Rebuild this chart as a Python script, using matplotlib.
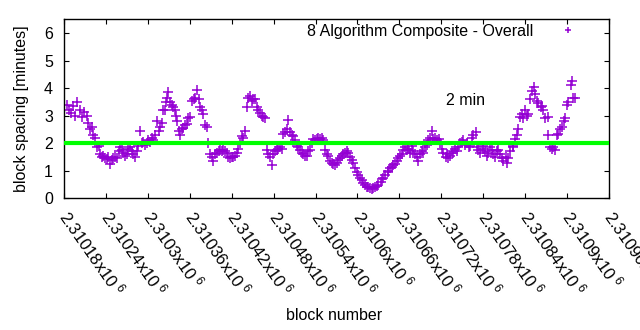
import matplotlib
matplotlib.use("Agg")
import matplotlib.pyplot as plt
import numpy as np

plt.rcParams['font.family'] = ['Liberation Sans', 'DejaVu Sans']
plt.rcParams['mathtext.fontset'] = 'custom'
plt.rcParams['mathtext.rm'] = 'Liberation Sans'
plt.rcParams['mathtext.default'] = 'regular'

purple = '#9400d3'
green = '#00ff00'

# block numbers are stored as offsets from the first x tick
block_base = 2310180
block_offset = [
    4, 7, 10, 13, 16, 19, 23, 26, 29, 33,
    34, 37, 40, 42, 44, 47, 50, 52, 54, 56,
    59, 62, 63, 66, 69, 70, 73, 76, 79, 80,
    83, 84, 87, 90, 92, 95, 97, 99, 102, 105,
    106, 109, 112, 113, 116, 119, 120, 123, 126, 127,
    130, 133, 136, 137, 140, 142, 145, 146, 147, 149,
    152, 155, 156, 159, 160, 162, 165, 166, 169, 170,
    173, 176, 178, 180, 183, 186, 188, 190, 193, 195,
    198, 199, 202, 205, 206, 209, 212, 213, 216, 219,
    222, 223, 226, 228, 231, 233, 235, 238, 241, 242,
    245, 248, 249, 252, 255, 256, 259, 262, 263, 266,
    269, 271, 274, 276, 278, 281, 284, 285, 288, 291,
    292, 295, 298, 299, 302, 305, 306, 309, 312, 314,
    316, 319, 321, 324, 326, 328, 331, 334, 335, 338,
    341, 342, 345, 348, 349, 352, 355, 357, 359, 362,
    364, 367, 369, 371, 374, 377, 378, 381, 384, 385,
    388, 391, 392, 395, 398, 400, 402, 405, 407, 410,
    412, 414, 417, 420, 421, 424, 427, 428, 431, 434,
    435, 438, 441, 442, 445, 448, 450, 453, 455, 457,
    460, 463, 464, 467, 470, 471, 474, 477, 478, 481,
    484, 485, 488, 491, 493, 495, 498, 500, 503, 505,
    507, 510, 513, 514, 517, 520, 521, 524, 527, 528,
    531, 534, 536, 538, 541, 543, 546, 548, 550, 553,
    556, 557, 560, 563, 564, 567, 570, 571, 574, 577,
    579, 581, 584, 586, 589, 591, 593, 596, 599, 600,
    603, 606, 607, 610, 613, 614, 617, 620, 621, 624,
    627, 629, 632, 634, 636, 639, 642, 643, 646, 649,
    650, 653, 656, 657, 660, 663, 664, 667, 670, 672,
    674, 677, 679, 682, 684, 686, 689, 692, 693, 696,
    699, 700, 703, 706, 707, 710, 713, 715, 717, 720,
    722, 725, 727, 729, 732,
]
spacing_min = [
    3.4, 3.2, 3.1, 3.35, 3.0, 3.5, 3.2, 2.95, 3.15, 3.0,
    2.75, 2.5, 2.6, 2.3, 2.2, 1.85, 1.9, 1.6, 1.5, 1.55,
    1.45, 1.43, 1.5, 1.25, 1.4, 1.45, 1.5, 1.45, 1.7, 1.85,
    1.75, 1.65, 1.55, 1.6, 1.8, 1.85, 1.7, 1.6, 1.5, 1.7,
    1.9, 2.45, 2.0, 2.05, 1.95, 2.0, 2.1, 2.05, 2.2, 2.1,
    2.3, 2.8, 2.45, 2.6, 2.75, 3.2, 3.2, 3.5, 3.65, 3.85,
    3.5, 3.4, 3.3, 3.2, 3.0, 2.8, 2.45, 2.3, 2.5, 2.55,
    2.65, 2.7, 2.9, 2.95, 3.55, 3.6, 3.65, 3.95, 3.6, 3.3,
    3.2, 3.05, 2.65, 2.6, 2.0, 1.6, 1.5, 1.35, 1.6, 1.65,
    1.7, 1.75, 1.7, 1.75, 1.7, 1.65, 1.5, 1.45, 1.5, 1.5,
    1.55, 1.65, 1.8, 2.0, 2.25, 2.2, 2.45, 3.3, 3.65, 3.7,
    3.55, 3.6, 3.6, 3.3, 3.2, 3.1, 3.0, 2.95, 2.9, 1.75,
    1.6, 1.5, 1.2, 1.6, 1.7, 1.75, 1.8, 1.85, 1.8, 2.35,
    2.4, 2.5, 2.85, 2.4, 2.3, 2.25, 2.1, 1.9, 1.85, 1.75,
    1.65, 1.6, 1.55, 1.55, 1.7, 1.75, 2.0, 2.15, 2.1, 2.15,
    2.2, 2.15, 2.2, 2.1, 1.75, 1.6, 1.55, 1.35, 1.3, 1.25,
    1.2, 1.3, 1.4, 1.45, 1.55, 1.6, 1.65, 1.7, 1.65, 1.5,
    1.4, 1.3, 1.1, 0.95, 0.85, 0.75, 0.65, 0.55, 0.48, 0.42,
    0.4, 0.37, 0.35, 0.36, 0.4, 0.45, 0.5, 0.6, 0.7, 0.75,
    0.85, 0.95, 1.0, 1.1, 1.15, 1.2, 1.25, 1.35, 1.45, 1.55,
    1.6, 1.75, 1.85, 1.75, 1.8, 1.65, 1.9, 1.7, 1.6, 1.5,
    1.35, 1.6, 1.7, 1.65, 1.85, 1.95, 2.1, 2.2, 2.45, 2.15,
    2.2, 2.1, 2.15, 2.0, 1.8, 1.65, 1.5, 1.6, 1.45, 1.55,
    1.7, 1.65, 1.8, 1.7, 1.85, 2.0, 2.05, 2.1, 1.95, 2.0,
    1.85, 1.9, 2.2, 2.3, 2.4, 1.85, 1.75, 1.65, 1.8, 1.9,
    1.7, 1.55, 1.65, 1.85, 1.75, 1.6, 1.5, 1.7, 1.75, 1.6,
    1.45, 1.35, 1.5, 1.3, 1.45, 1.7, 1.85, 1.9, 2.15, 2.3,
    2.5, 2.95, 3.05, 2.9, 3.2, 3.0, 3.05, 3.6, 3.9, 4.05,
    3.8, 3.55, 3.45, 3.3, 3.35, 3.2, 2.9, 2.95, 2.3, 1.85,
    1.8, 1.85, 1.75, 2.3, 2.35, 2.5, 2.6, 2.8, 2.9, 3.4,
    3.5, 4.1, 4.25, 3.65, 3.65,
]
target_min = 2
x_ticks = [block_base + 60 * k for k in range(14)]
y_ticks = [0, 1, 2, 3, 4, 5, 6]

blocks = block_base + np.array(block_offset)

fig = plt.figure(figsize=(6.4, 3.3), dpi=100)
ax = fig.add_axes([64 / 640, 1 - 198.3 / 330, 545 / 640, 179 / 330])

ax.plot(blocks, spacing_min, linestyle='none', marker='+', color=purple,
        markersize=7, markeredgewidth=1.1, label='8 Algorithm Composite - Overall')
ax.axhline(target_min, color=green, linewidth=3, zorder=3)
ax.text(block_base + 547, 3.54, '2 min', ha='left', va='center', fontsize=11.5)

ax.set_xlim(x_ticks[0], x_ticks[-1])
ax.set_ylim(0, 6.5)
ax.set_yticks(y_ticks)
ax.set_xticks(x_ticks)
ax.set_xticklabels([f'{v / 1e6:g}x10$^{{\\ 6}}$' for v in x_ticks],
                   rotation=-55, ha='left', va='center', rotation_mode='anchor',
                   fontsize=12)
ax.tick_params(direction='in', top=True, right=True, length=3.5, width=0.8,
               colors='black')
ax.tick_params(axis='x', pad=10)
ax.tick_params(axis='y', pad=8, labelsize=11.5)
for s in ax.spines.values():
    s.set_linewidth(1.0)

ax.legend(loc='upper right', bbox_to_anchor=(0.954, 0.975), borderaxespad=0,
          borderpad=0, frameon=False, markerfirst=False, handlelength=2,
          handletextpad=1.2, markerscale=0.7, fontsize=11.5)

fig.text(22 / 640, 1 - 109 / 330, 'block spacing [minutes]', rotation=90,
         ha='center', va='center', fontsize=11.5)
fig.text(334 / 640, 1 - 316 / 330, 'block number', ha='center', va='center',
         fontsize=11.5)

fig.savefig('out.png', dpi=100)
